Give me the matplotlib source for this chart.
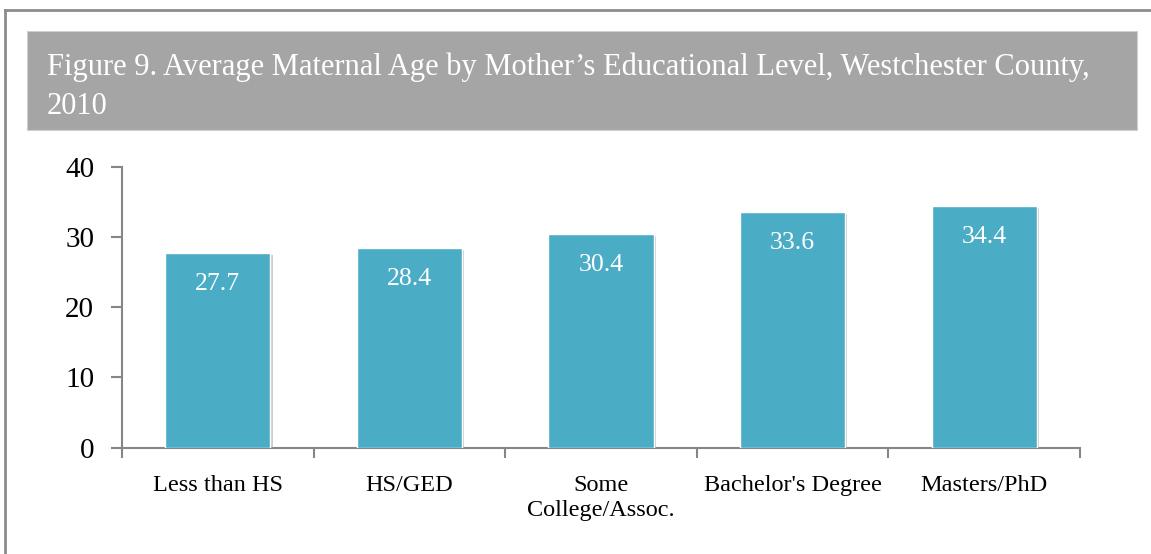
import matplotlib
matplotlib.use('Agg')
import matplotlib.pyplot as plt
import matplotlib.patches as mpatches
import matplotlib.patheffects as pe
from matplotlib.lines import Line2D

categories = ["Less than HS", "HS/GED", "Some\nCollege/Assoc.",
              "Bachelor's Degree", "Masters/PhD"]
avg_age = [27.7, 28.4, 30.4, 33.6, 34.4]
yticks = [0, 10, 20, 30, 40]
title = ("Figure 9. Average Maternal Age by Mother\u2019s Educational Level, "
         "Westchester County,\n2010")

W, H = 1151, 554
BAR_COLOR = '#4BACC6'
AXIS_COLOR = '#868686'
plt.rcParams['font.family'] = ['Liberation Serif', 'DejaVu Serif']

fig = plt.figure(figsize=(W / 100, H / 100), dpi=100)
fig.patch.set_facecolor('white')

def px(x, y):
    # pixel coords (top-left origin) -> figure fraction
    return x / W, 1 - y / H

# outer frame (top and left edges visible)
fig.add_artist(Line2D([5 / W, 5 / W], [0, 1 - 10 / H], transform=fig.transFigure,
                      color='#8C8C8C', lw=2))
fig.add_artist(Line2D([5 / W, 1], [1 - 10 / H, 1 - 10 / H], transform=fig.transFigure,
                      color='#8C8C8C', lw=2))

# title banner
bx, by = px(27, 130)
fig.add_artist(mpatches.Rectangle((bx, by), (1137 - 27) / W, (130 - 31) / H,
                                  transform=fig.transFigure, facecolor='#A5A5A5',
                                  edgecolor='#D0D0D0', lw=0.8))
tx, ty = px(47, 52)
fig.text(tx, ty, title, color='white', fontsize=22, ha='left', va='top',
         linespacing=1.48)

# axes
x0, y0 = 122, 447.7
x1, y1 = 1080, 166.7
ax = fig.add_axes([x0 / W, 1 - y0 / H, (x1 - x0) / W, (y0 - y1) / H])

xs = range(len(categories))
shadow = [pe.SimplePatchShadow(offset=(1.5, -1.5), shadow_rgbFace='#9A9A9A', alpha=0.5),
          pe.Normal()]
bars = ax.bar(xs, avg_age, width=0.55, color=BAR_COLOR, edgecolor='white',
              linewidth=1.0, zorder=3)
for b in bars:
    b.set_path_effects(shadow)

for x, v in zip(xs, avg_age):
    ax.annotate(f'{v}', xy=(x, v), xytext=(0, -31), textcoords='offset pixels',
                ha='center', va='center', color='white', fontsize=18.5, zorder=4)

ax.set_xlim(-0.5, len(categories) - 0.5)
ax.set_ylim(0, 40)
ax.set_yticks(yticks)
ax.set_yticklabels([str(t) for t in yticks], fontsize=21)

ax.set_xticks(xs)
ax.set_xticklabels(categories, fontsize=17.5, linespacing=1.2)
ax.tick_params(axis='x', length=0, pad=20)
ax.set_xticks([i - 0.5 for i in range(len(categories) + 1)], minor=True)
ax.tick_params(axis='x', which='minor', length=7, width=1.5, color=AXIS_COLOR)
ax.tick_params(axis='y', length=8, width=1.5, color=AXIS_COLOR, pad=12)
for lbl in ax.get_xticklabels():
    lbl.set_verticalalignment('top')

for s in ['top', 'right']:
    ax.spines[s].set_visible(False)
for s in ['left', 'bottom']:
    ax.spines[s].set_color(AXIS_COLOR)
    ax.spines[s].set_linewidth(1.5)
ax.grid(False)

plt.savefig('out.png', dpi=100, facecolor='white')
plt.close()
